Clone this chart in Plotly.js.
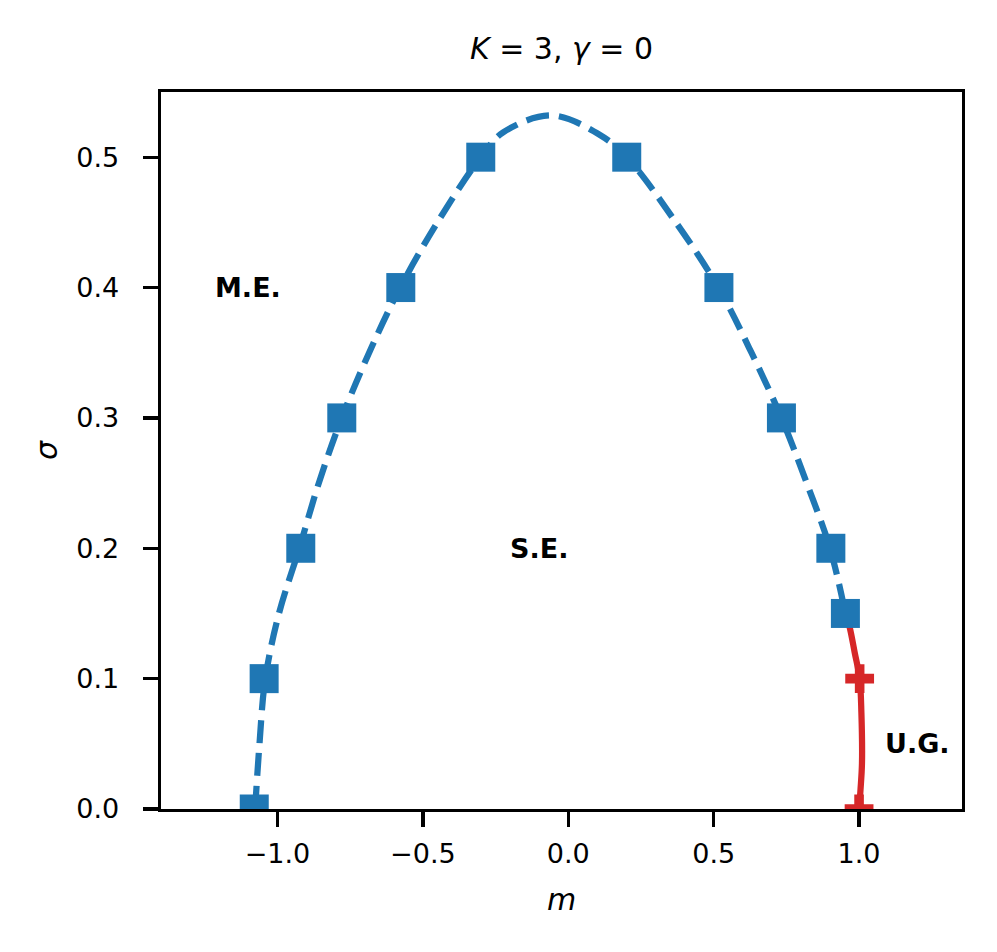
<!DOCTYPE html>
<html>
<head>
<meta charset="utf-8">
<script src="https://cdn.plot.ly/plotly-3.0.1.min.js"></script>
<style>html,body{margin:0;padding:0;background:#fff;}#chart{width:997px;height:952px;}</style>
</head>
<body>
<div id="chart"></div>
<script>
// Blue square data points (m, sigma)
const seMarkerM = [-1.080, -1.046, -0.920, -0.779, -0.576, -0.301, 0.201, 0.518, 0.733, 0.903, 0.953];
const seMarkerSigma = [0.0, 0.1, 0.2, 0.3, 0.4, 0.5, 0.5, 0.4, 0.3, 0.2, 0.15];
// Blue dashed boundary curve
const seCurveM = [-1.077, -1.062, -1.042, -0.995, -0.925, -0.858, -0.779, -0.685, -0.578, -0.450, -0.301, -0.224, -0.057, 0.109, 0.201, 0.370, 0.516, 0.630, 0.733, 0.820, 0.900, 0.953];
const seCurveSigma = [0.0, 0.05, 0.1, 0.15, 0.2, 0.25, 0.3, 0.35, 0.4, 0.45, 0.5, 0.519, 0.532, 0.517, 0.5, 0.45, 0.4, 0.35, 0.3, 0.25, 0.2, 0.15];
// Red U.G. boundary
const ugCurveM = [0.953, 0.967, 0.985, 1.002, 1.008, 1.010, 1.005, 1.000];
const ugCurveSigma = [0.15, 0.14, 0.12, 0.1, 0.074, 0.035, 0.015, 0.0];
const ugMarkerM = [1.002, 1.000];
const ugMarkerSigma = [0.1, 0.0];
// Region labels
const regionText = ['M.E.', 'S.E.', 'U.G.'];
const regionM = [-1.10, -0.10, 1.20];
const regionSigma = [0.40, 0.20, 0.05];
const xTicks = [-1.0, -0.5, 0.0, 0.5, 1.0];
const yTicks = [0.0, 0.1, 0.2, 0.3, 0.4, 0.5];

const BLUE = '#1f77b4', RED = '#d62728';
const FONT = 'DejaVu Sans';

const traces = [
  {x: seCurveM, y: seCurveSigma, mode: 'lines', type: 'scatter',
   line: {color: BLUE, width: 6.25, dash: '23px,10px', shape: 'spline', smoothing: 1}, hoverinfo: 'skip'},
  {x: ugCurveM, y: ugCurveSigma, mode: 'lines', type: 'scatter',
   line: {color: RED, width: 6.25, shape: 'spline', smoothing: 1}, hoverinfo: 'skip'},
  {x: seMarkerM, y: seMarkerSigma, mode: 'markers', type: 'scatter',
   marker: {symbol: 'square', size: 29, color: BLUE, line: {width: 0}}},
  {x: ugMarkerM, y: ugMarkerSigma, mode: 'markers', type: 'scatter',
   marker: {symbol: 'cross', size: 24, color: RED, line: {width: 0}}}
];

const annotations = regionText.map((t, i) => ({
  x: regionM[i], y: regionSigma[i], xref: 'x', yref: 'y', text: '<b>' + t + '</b>',
  showarrow: false, xanchor: 'center', yanchor: 'middle',
  font: {family: FONT, size: 27, color: '#000'}
}));

const axisCommon = {
  showgrid: false, zeroline: false, showline: true, mirror: true,
  linecolor: '#000', linewidth: 3.3, ticks: 'outside', ticklen: 15, tickwidth: 3.3,
  tickcolor: '#000', tickfont: {family: FONT, size: 27, color: '#000'},
  tickformat: '.1f', tickmode: 'array', automargin: false
};

const layout = {
  width: 997, height: 952,
  paper_bgcolor: '#fff', plot_bgcolor: '#fff',
  margin: {l: 161, r: 35, t: 92, b: 143},
  showlegend: false,
  font: {family: FONT, color: '#000'},
  title: {text: '<i>K</i> = 3, <i>γ</i> = 0', font: {family: FONT, size: 30, color: '#000'},
          x: 0.5, xanchor: 'center', y: 1 - 48 / 952, yanchor: 'middle', xref: 'paper', yref: 'container'},
  xaxis: Object.assign({}, axisCommon, {range: [-1.4007, 1.354], tickvals: xTicks, ticklabelstandoff: 3,
    title: {text: '<i>m</i>', font: {family: FONT, size: 30, color: '#000'}, standoff: 22}}),
  yaxis: Object.assign({}, axisCommon, {range: [0, 0.55], tickvals: yTicks, ticklabelstandoff: 18,
    title: {text: '<i>σ</i>', font: {family: FONT, size: 30, color: '#000'}, standoff: 10}}),
  annotations: annotations
};

Plotly.newPlot('chart', traces, layout, {staticPlot: true, displayModeBar: false});
</script>
</body>
</html>
